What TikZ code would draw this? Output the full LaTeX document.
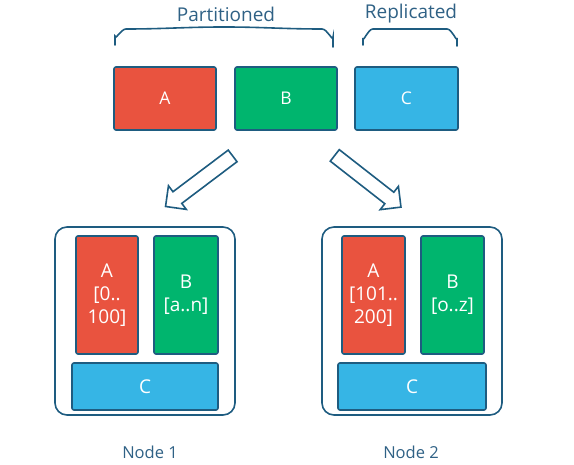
\documentclass[tikz,border=0pt]{standalone}
\usepackage{fontspec}
\setmainfont{Open Sans}
\usetikzlibrary{shapes.arrows}
\definecolor{ink}{HTML}{1E5C80}
\definecolor{redpart}{HTML}{E9533F}
\definecolor{greenpart}{HTML}{00B56E}
\definecolor{bluepart}{HTML}{36B5E5}
\definecolor{labeltext}{HTML}{2F6185}
\begin{document}
\begin{tikzpicture}[x=1pt,y=-1pt]
  \tikzset{
    part/.style = {draw=ink, line width=1.6pt, rounded corners=2pt, text=white, inner sep=0pt, align=center},
    machine/.style = {draw=ink, line width=1.6pt, rounded corners=12pt, minimum width=180pt, minimum height=188pt},
    fat arrow/.style = {draw=ink, line width=1.6pt, fill=white, single arrow, minimum width=28pt, single arrow head extend=7.5pt, single arrow head indent=0pt, minimum height=84pt, inner xsep=0pt, inner ysep=6.5pt},
    caption/.style = {text=labeltext, font=\fontsize{16.5}{20}\selectfont}
  }
  \useasboundingbox (0,0) rectangle (574,465);

  % Daten
  \node[part, fill=redpart, minimum width=102pt, minimum height=63pt, font=\fontsize{17.5}{20}\selectfont] (a) at (165,98.5) {A};
  \node[part, fill=greenpart, minimum width=102pt, minimum height=63pt, font=\fontsize{17.5}{20}\selectfont] (b) at (286,98.5) {B};
  \node[part, fill=bluepart, minimum width=103pt, minimum height=63pt, font=\fontsize{17.5}{20}\selectfont] (c) at (406.5,98.5) {C};

  % Klammern
  \draw[ink, line width=1.6pt, line cap=round] (115,45) -- (115,36) to[out=-90,in=180] (126,29) to[out=0,in=180] (224,27) to[out=0,in=180] (322,29) to[out=0,in=-90] (333,37) -- (333,47);
  \draw[ink, line width=1.6pt, line cap=round] (363,45) -- (363,38) to[out=-90,in=180] (373,29) -- (447,29) to[out=0,in=-90] (457,38) -- (457,46);
  \node[caption, font=\fontsize{19}{22}\selectfont] (part) at (226,14) {Partitioned};
  \node[caption, font=\fontsize{19}{22}\selectfont] (repl) at (411,14) {Replicated};

  % Pfeile
  \node[fat arrow, rotate=217] (toleft) at (202,179) {};
  \node[fat arrow, rotate=-38] (toright) at (365,179) {};

  % Knoten 1
  \node[machine] (n1) at (145,321) {};
  \node[part, fill=redpart, minimum width=62pt, minimum height=118pt, font=\fontsize{19}{23}\selectfont] (a1) at (107,295) {A\\{[0..}\\100]};
  \node[part, fill=greenpart, minimum width=64pt, minimum height=118pt, font=\fontsize{19}{23}\selectfont] (b1) at (186,295) {B\\{[a..n]}};
  \node[part, fill=bluepart, minimum width=146pt, minimum height=47pt, font=\fontsize{19}{23}\selectfont] (c1) at (145,386.5) {C};
  \node[caption] (l1) at (150,452) {Node 1};

  % Knoten 2
  \node[machine] (n2) at (412,321) {};
  \node[part, fill=redpart, minimum width=63pt, minimum height=118pt, font=\fontsize{19}{23}\selectfont] (a2) at (373.5,295) {A\\{[101..}\\200]};
  \node[part, fill=greenpart, minimum width=63pt, minimum height=118pt, font=\fontsize{19}{23}\selectfont] (b2) at (452.5,295) {B\\{[o..z]}};
  \node[part, fill=bluepart, minimum width=148pt, minimum height=47pt, font=\fontsize{19}{23}\selectfont] (c2) at (412,386.5) {C};
  \node[caption] (l2) at (411,452) {Node 2};
\end{tikzpicture}
\end{document}
